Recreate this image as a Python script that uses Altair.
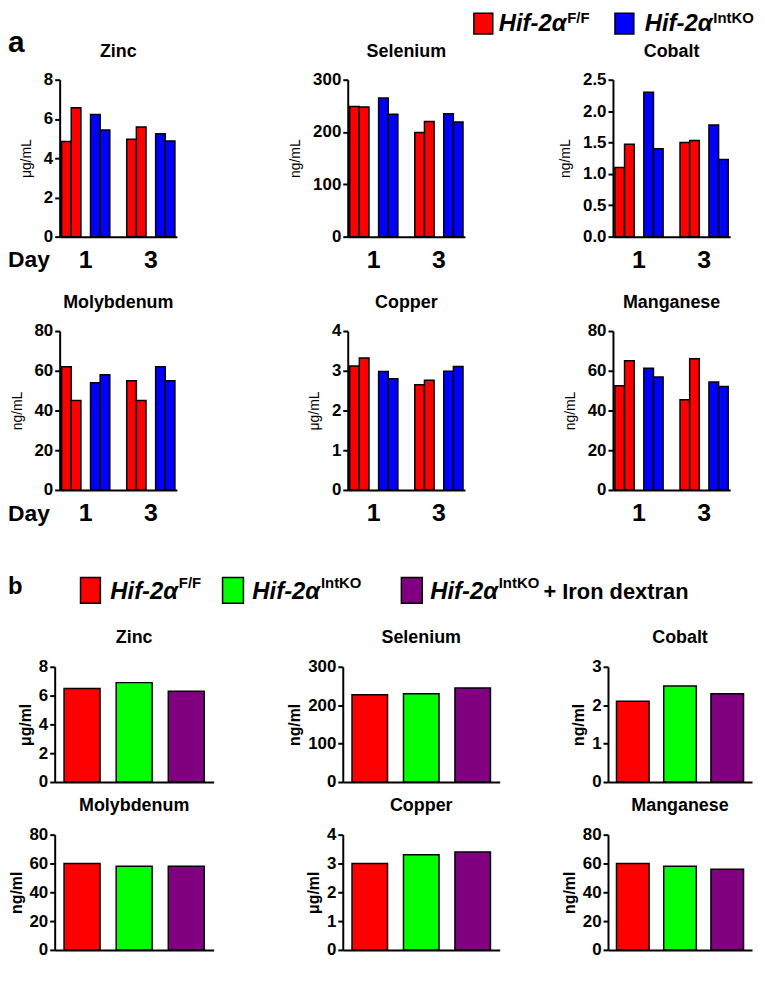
import altair as alt
import pandas as pd

FONT = "Liberation Sans, Arial, Helvetica, sans-serif"

# ---------------- data ----------------
elements = ["Zinc", "Selenium", "Cobalt", "Molybdenum", "Copper", "Manganese"]
units_a = ["μg/mL", "ng/mL", "ng/mL", "ng/mL", "μg/mL", "ng/mL"]
units_b = ["μg/ml", "ng/ml", "ng/ml", "ng/ml", "μg/ml", "ng/ml"]

# panel a: two days, per day two Hif-2a F/F mice then two Hif-2a IntKO mice
days = ["1", "3"]
mice_a = ["F/F #1", "F/F #2", "IntKO #1", "IntKO #2"]
genotype_of_mouse = ["F/F", "F/F", "IntKO", "IntKO"]
genotypes_a = ["F/F", "IntKO"]
zinc_a = [4.85, 6.57, 6.23, 5.44, 4.97, 5.59, 5.24, 4.87]
selenium_a = [249, 248, 265, 234, 199, 220, 235, 219]
cobalt_a = [1.10, 1.47, 2.30, 1.40, 1.50, 1.53, 1.78, 1.23]
molybdenum_a = [62, 45, 54, 58, 55, 45, 62, 55]
copper_a = [3.12, 3.32, 2.98, 2.80, 2.65, 2.76, 2.99, 3.11]
manganese_a = [52.5, 65, 61.3, 56.8, 45.4, 66, 54.3, 52.1]
values_a = [zinc_a, selenium_a, cobalt_a, molybdenum_a, copper_a, manganese_a]
ymax_a = [8, 300, 2.5, 80, 4, 80]
ystep_a = [2, 100, 0.5, 20, 1, 20]

# panel b: three groups
groups_b = ["b F/F", "b IntKO", "b IntKO + Iron dextran"]
zinc_b = [6.5, 6.9, 6.3]
selenium_b = [227, 230, 245]
cobalt_b = [2.1, 2.5, 2.3]
molybdenum_b = [60, 58, 58]
copper_b = [3.0, 3.3, 3.4]
manganese_b = [60, 58, 56]
values_b = [zinc_b, selenium_b, cobalt_b, molybdenum_b, copper_b, manganese_b]
ymax_b = [8, 300, 3, 80, 4, 80]
ystep_b = [2, 100, 1, 20, 1, 20]

colors_a = ["#FF0000", "#0000FF"]
colors_b = ["#FF0000", "#00FF00", "#800080"]

# ---------------- layout ----------------
SLOT_H = [158, 255, 294, 169]      # grid row slot heights
VIS_H = [158, 160, 116, 116]       # visible plot heights
SLOT_W_A = [277, 266, 118]
SLOT_W_B = [290, 267, 140]
RANGE_B = [(-5, 155), (-5, 153), (-5, 140)]
A_W = 118


def txt(text, x, y, size, weight="bold", style="normal", align="left"):
    return alt.Chart(pd.DataFrame({"t": [text]})).mark_text(
        font=FONT, fontSize=size, fontWeight=weight, fontStyle=style,
        align=align, baseline="alphabetic", color="black"
    ).encode(text="t:N", x=alt.value(x), y=alt.value(y))


def box(x1, x2, y1, y2, fill):
    return alt.Chart(pd.DataFrame({"f": [fill]})).mark_rect(
        fill=fill, stroke="black", strokeWidth=1.5
    ).encode(x=alt.value(x1), x2=alt.value(x2), y=alt.value(y1), y2=alt.value(y2))


def yaxis(title, ymax, step, size_lab, title_size, title_weight, pad, offset):
    n = int(round(ymax / step))
    vals = [round(k * step, 3) for k in range(n + 1)]
    fmt = ".1f" if step < 1 else "d"
    return alt.Axis(values=vals, format=fmt, grid=False, title=title,
                    domainColor="black", domainWidth=2, tickColor="black",
                    tickWidth=2, tickSize=5, labelFont=FONT, labelFontSize=size_lab,
                    labelFontWeight="bold", labelColor="black", labelPadding=2,
                    titleFont=FONT, titleFontSize=title_size, titleFontWeight=title_weight,
                    titleColor="black", titlePadding=pad, offset=offset)


def chart_a(i, row, col):
    H, h = SLOT_H[row], VIS_H[row]
    top = H - h
    df = pd.DataFrame({
        "day": [d for d in days for _ in mice_a],
        "mouse": mice_a * 2,
        "genotype": genotype_of_mouse * 2,
        "value": values_a[i],
    })
    bars = alt.Chart(df).mark_bar(stroke="black", strokeWidth=1.5).encode(
        x=alt.X("day:N", title=None,
                scale=alt.Scale(domain=days, range=[0, A_W], paddingInner=0.26, paddingOuter=0.03),
                axis=alt.Axis(labelAngle=0, ticks=False, tickSize=0, grid=False,
                              labelFont=FONT, labelFontSize=25, labelFontWeight="bold",
                              labelColor="black", labelPadding=11,
                              domainColor="black", domainWidth=2)),
        xOffset=alt.XOffset("mouse:N",
                            scale=alt.Scale(domain=[mice_a[0], mice_a[1], "gap", mice_a[2], mice_a[3]],
                                            paddingInner=0, paddingOuter=0)),
        y=alt.Y("value:Q",
                scale=alt.Scale(domain=[0, ymax_a[i]], range=[H, top], nice=False),
                axis=yaxis(units_a[i], ymax_a[i], ystep_a[i], 17, 14, "normal", 10, 0)),
        color=alt.Color("genotype:N", scale=alt.Scale(domain=genotypes_a, range=colors_a), legend=None),
    )
    layers = [bars, txt(elements[i], A_W / 2, top - 23, 18, align="center")]
    if col == 0:
        layers.append(txt("Day", -52, H + 31, 23))
    if row == 0 and col == 0:
        layers.append(txt("a", -52, -28, 30))
    if row == 0 and col == 1:
        # legend of panel a
        layers += [
            box(127, 146, -67, -46, colors_a[0]),
            txt("Hif-2α", 152, -49, 24, style="italic"),
            txt("F/F", 221, -57, 15),
            box(269, 288, -67, -46, colors_a[1]),
            txt("Hif-2α", 299, -49, 24, style="italic"),
            txt("IntKO", 368, -57, 15),
        ]
    return alt.layer(*layers).properties(width=SLOT_W_A[col], height=H)


def chart_b(i, row, col):
    H, h = SLOT_H[row], VIS_H[row]
    top = H - h
    r0, r1 = RANGE_B[col]
    df = pd.DataFrame({"group": groups_b, "value": values_b[i]})
    bars = alt.Chart(df).mark_bar(stroke="black", strokeWidth=1.5).encode(
        x=alt.X("group:N", title=None,
                scale=alt.Scale(domain=groups_b, range=[r0, r1], paddingInner=0.31, paddingOuter=0.18),
                axis=alt.Axis(labels=False, ticks=False, tickSize=0, grid=False,
                              domainColor="black", domainWidth=2)),
        y=alt.Y("value:Q",
                scale=alt.Scale(domain=[0, ymax_b[i]], range=[H, top], nice=False),
                axis=yaxis(units_b[i], ymax_b[i], ystep_b[i], 17, 16, "bold", 5, 5)),
        color=alt.Color("group:N", scale=alt.Scale(domain=groups_b, range=colors_b), legend=None),
    )
    layers = [bars, txt(elements[i], (r0 + r1) / 2, top - 24, 18, align="center")]
    if row == 2 and col == 0:
        layers += [
            txt("b", -52, 105, 24),
            box(21, 41, 88, 114, colors_b[0]),
            txt("Hif-2α", 51, 110, 24, style="italic"),
            txt("F/F", 120, 99, 15),
            box(164, 185, 88, 114, colors_b[1]),
            txt("Hif-2α", 194, 110, 24, style="italic"),
            txt("IntKO", 263, 99, 15),
            box(344, 365, 88, 114, colors_b[2]),
            txt("Hif-2α", 373, 110, 24, style="italic"),
            txt("IntKO", 442, 99, 15),
            txt("+ Iron dextran", 487, 110, 22),
        ]
    return alt.layer(*layers).properties(width=SLOT_W_B[col], height=H)


charts = []
for k in range(6):
    charts.append(chart_a(k, k // 3, k % 3))
for k in range(6):
    charts.append(chart_b(k, 2 + k // 3, k % 3))

chart = alt.concat(
    *charts, columns=3, spacing=0, bounds="flush",
    align={"row": "each", "column": "none"},
).resolve_scale(
    color="independent"
).properties(
    padding={"left": 0, "top": 0, "right": 0, "bottom": 0},
    background="white",
).configure_view(stroke=None)

chart.save("out.html", embed_options={"renderer": "svg", "actions": False})
